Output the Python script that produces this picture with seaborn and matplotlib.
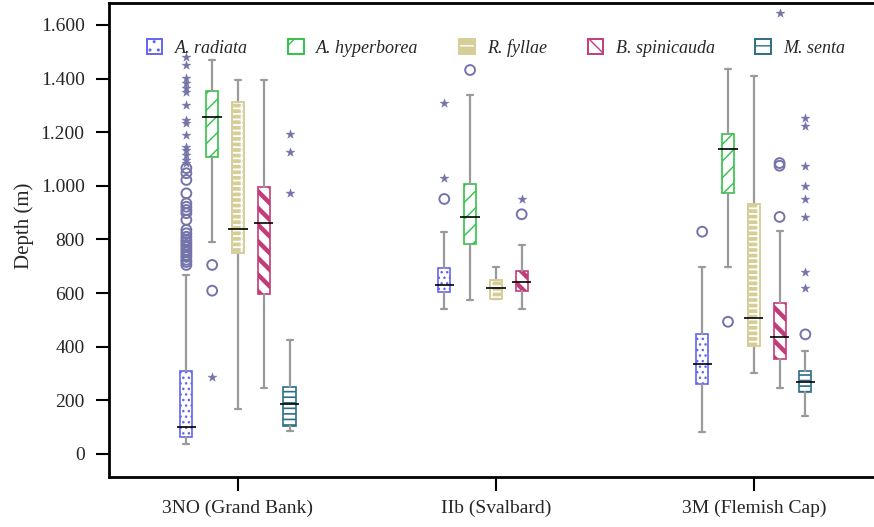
import numpy as np
import pandas as pd
import matplotlib
matplotlib.use("Agg")
import matplotlib.pyplot as plt
from matplotlib.patches import Patch, PathPatch
from matplotlib.ticker import FuncFormatter
import seaborn as sns

# regions on the x axis and species in each group
regions = ['3NO (Grand Bank)', 'IIb (Svalbard)', '3M (Flemish Cap)']
species = ['A. radiata', 'A. hyperborea', 'R. fyllae', 'B. spinicauda', 'M. senta']

# box statistics per species, one value per region (nan = no data)
whislo = {'A. radiata':    [37, 541, 82],
          'A. hyperborea': [790, 574, 699],
          'R. fyllae':     [168, 578, 303],
          'B. spinicauda': [247, 541, 247],
          'M. senta':      [87, np.nan, 142]}
q1 = {'A. radiata':    [62, 604, 261],
      'A. hyperborea': [1107, 783, 972],
      'R. fyllae':     [751, 578, 401],
      'B. spinicauda': [596, 609, 354],
      'M. senta':      [106, np.nan, 230]}
med = {'A. radiata':    [102, 630, 337],
       'A. hyperborea': [1256, 884, 1138],
       'R. fyllae':     [839, 619, 506],
       'B. spinicauda': [863, 640, 435],
       'M. senta':      [187, np.nan, 267]}
q3 = {'A. radiata':    [311, 695, 446],
      'A. hyperborea': [1355, 1006, 1192],
      'R. fyllae':     [1312, 649, 934],
      'B. spinicauda': [997, 684, 564],
      'M. senta':      [251, np.nan, 311]}
whishi = {'A. radiata':    [668, 828, 699],
          'A. hyperborea': [1470, 1337, 1436],
          'R. fyllae':     [1395, 697, 1410],
          'B. spinicauda': [1395, 781, 833],
          'M. senta':      [425, np.nan, 385]}

# outliers (circles) and extremes (stars)
circles = {'A. radiata':    [[705, 716, 724, 735, 742, 752, 761, 771, 780, 790, 798, 810,
                               823, 836, 873, 898, 910, 922, 935, 972, 1022, 1047, 1066],
                              [951], [829]],
           'A. hyperborea': [[705, 609], [1432], [493]],
           'R. fyllae':     [[], [], []],
           'B. spinicauda': [[], [894], [1075, 1085, 884]],
           'M. senta':      [[], [], [446]]}
stars = {'A. radiata':    [[1482, 1451, 1401, 1383, 1364, 1351, 1302, 1246, 1233, 1190,
                            1146, 1134, 1115, 1097, 1084], [1308, 1028], []],
         'A. hyperborea': [[288], [], []],
         'R. fyllae':     [[], [], []],
         'B. spinicauda': [[], [952], [1646]],
         'M. senta':      [[1192, 1125, 972], [], [1254, 1223, 1075, 1001, 951, 883, 678, 618]]}

# styling
edge_col = {'A. radiata': '#6464F2', 'A. hyperborea': '#33C24A', 'R. fyllae': '#D6CE98',
            'B. spinicauda': '#C23C7A', 'M. senta': '#2C6F86'}
hatches = {'A. radiata': '...', 'A. hyperborea': '//', 'R. fyllae': '---|',
           'B. spinicauda': '\\\\', 'M. senta': '---'}
leg_hatches = {'A. radiata': '..', 'A. hyperborea': '/', 'R. fyllae': '--|',
               'B. spinicauda': '\\\\', 'M. senta': '--'}
hatch_lw = {'A. radiata': 1.0, 'A. hyperborea': 1.0, 'R. fyllae': 1.3,
            'B. spinicauda': 3.2, 'M. senta': 1.2}
offsets = [-0.2, -0.1, 0.0, 0.1, 0.2]
out_col = '#7474AA'
whisk_col = '#9A9A9A'

sns.set_style("ticks")
plt.rcParams['font.family'] = ['Liberation Serif', 'DejaVu Serif']

fig = plt.figure(figsize=(8.74, 5.27), dpi=100)
ax = fig.add_axes([109/874, 50/527, 773.75/874, 474/527])

box_w = 0.047
for k, sp in enumerate(species):
    stats, pos = [], []
    for i in range(len(regions)):
        if np.isnan(med[sp][i]):
            continue
        stats.append(dict(whislo=whislo[sp][i], q1=q1[sp][i], med=med[sp][i],
                          q3=q3[sp][i], whishi=whishi[sp][i], fliers=[]))
        pos.append(i + offsets[k])
    fyllae = sp == 'R. fyllae'
    bp = ax.bxp(stats, positions=pos, widths=box_w, capwidths=box_w * 0.5,
                patch_artist=True, showfliers=False,
                boxprops=dict(facecolor=edge_col[sp] if fyllae else 'white',
                              edgecolor='white' if fyllae else edge_col[sp],
                              hatch=hatches[sp], linewidth=1.2),
                whiskerprops=dict(color=whisk_col, linewidth=1.6),
                capprops=dict(color=whisk_col, linewidth=1.6),
                medianprops=dict(linewidth=0))
    for b in bp['boxes']:
        if hasattr(b, 'set_hatch_linewidth'):
            b.set_hatch_linewidth(hatch_lw[sp])
        b.set_zorder(2)
        if fyllae:
            # khaki outline over the white grid hatch
            ax.add_patch(PathPatch(b.get_path(), transform=b.get_transform(),
                                   facecolor='none', edgecolor=edge_col[sp],
                                   linewidth=1.4, zorder=2.1))
    # median lines stick out of the box a little
    m = [s['med'] for s in stats]
    ax.hlines(m, np.array(pos) - box_w * 0.8, np.array(pos) + box_w * 0.8,
              color='black', linewidth=1.2, zorder=3)

# outlier points
rows = []
for k, sp in enumerate(species):
    for i in range(len(regions)):
        for v in circles[sp][i]:
            rows.append((i + offsets[k], v, 'circle'))
        for v in stars[sp][i]:
            rows.append((i + offsets[k], v, 'star'))
outl = pd.DataFrame(rows, columns=['x', 'depth', 'kind'])

sns.scatterplot(data=outl[outl.kind == 'circle'], x='x', y='depth', marker='o',
                color=out_col, fc='none', edgecolor=out_col, s=50, linewidth=1.4,
                ax=ax, zorder=4)
sns.scatterplot(data=outl[outl.kind == 'star'], x='x', y='depth', marker='*',
                color=out_col, edgecolor=out_col, s=45, linewidth=0.3, ax=ax, zorder=4)

# axes
ax.set_xlim(-0.5, 2.5)
ax.set_ylim(-86, 1682)
ax.set_xticks(range(len(regions)))
ax.set_xticklabels(regions)
ax.set_yticks(np.arange(0, 1601, 200))
ax.yaxis.set_major_formatter(FuncFormatter(lambda v, p: '{:,}'.format(int(v)).replace(',', '.')))
ax.set_xlabel('')
ax.set_ylabel('Depth (m)', fontsize=15)
ax.yaxis.set_label_coords(-0.097, 0.53)
ax.tick_params(axis='y', labelsize=14, length=9.5, width=1.5, pad=8, color='black')
ax.tick_params(axis='x', labelsize=14, length=10, width=1.5, pad=6, color='black')
for s in ax.spines.values():
    s.set_linewidth(2)
    s.set_color('black')

# legend
handles = []
for sp in species:
    if sp == 'R. fyllae':
        h = (Patch(facecolor=edge_col[sp], edgecolor='white', hatch=leg_hatches[sp], linewidth=0),
             Patch(facecolor='none', edgecolor=edge_col[sp], linewidth=1.4))
    else:
        h = Patch(facecolor='white', edgecolor=edge_col[sp], hatch=leg_hatches[sp], linewidth=1.4)
        if hasattr(h, 'set_hatch_linewidth'):
            h.set_hatch_linewidth(hatch_lw[sp] * 1.2)
    handles.append(h)
fig.legend(handles, species, loc='center', bbox_to_anchor=(496/874, 1 - 48/527),
           ncol=5, frameon=False, prop=dict(family='Liberation Serif', style='italic', size=13),
           handlelength=0.85, handleheight=0.85, handletextpad=0.7, columnspacing=2.25)

plt.savefig('out.png', dpi=100)
